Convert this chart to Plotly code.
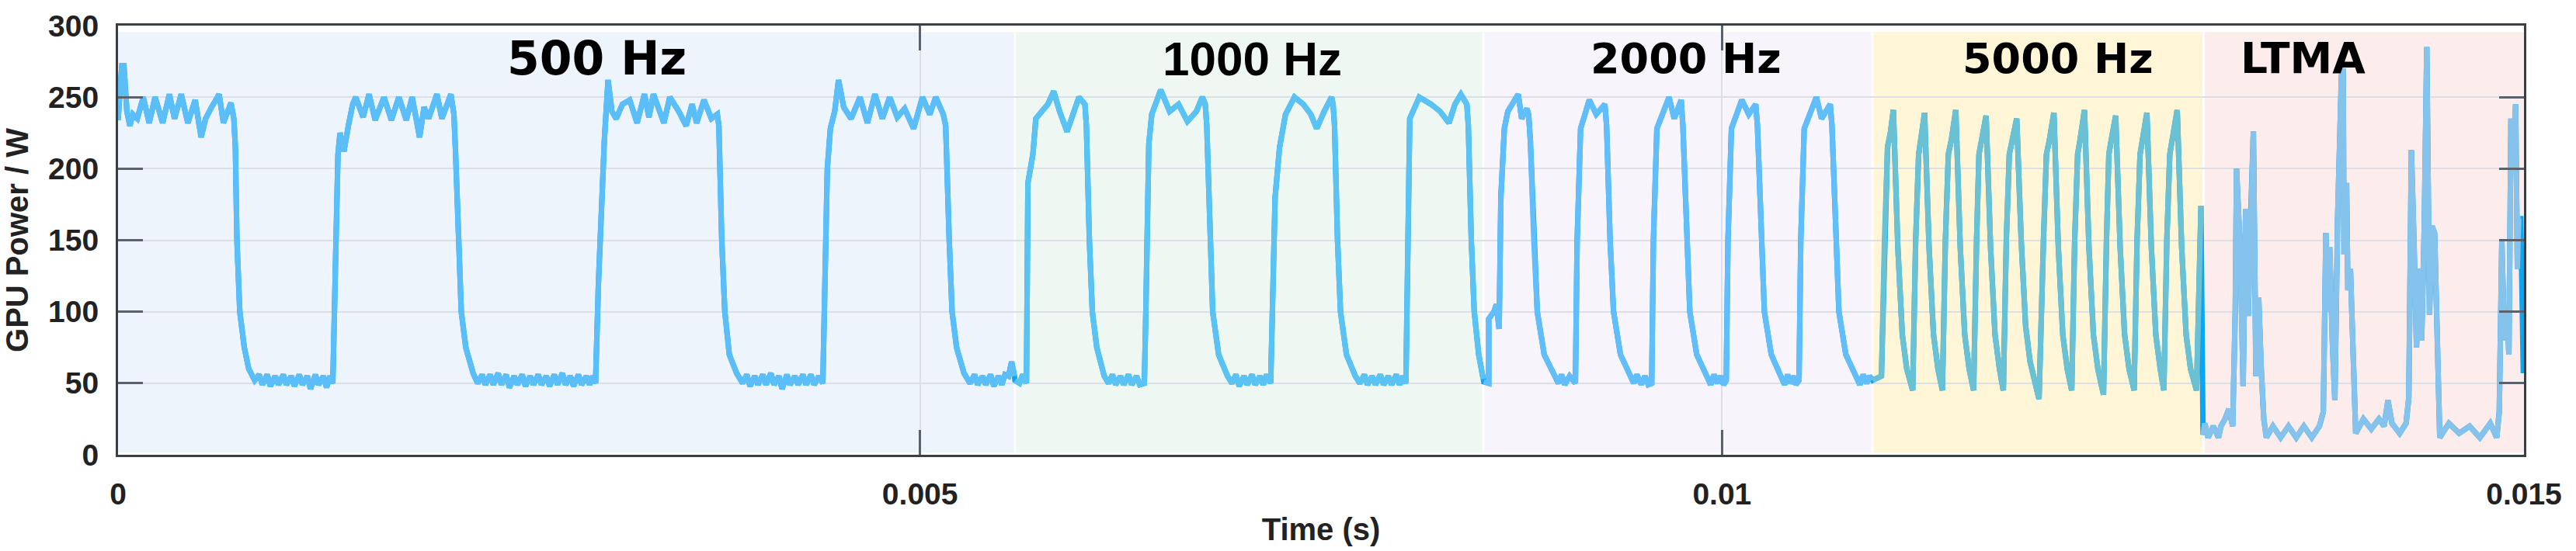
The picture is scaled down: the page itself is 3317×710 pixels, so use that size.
import plotly.graph_objects as go

# ---------------- data (time in ms, power in W) ----------------
seg_500hz = [(0.000, 234), (0.0125, 260), (0.0237, 272), (0.0366, 272), (0.0552, 240), (0.0737, 230), (0.0922, 238),
             (0.120, 235), (0.157, 250), (0.194, 232), (0.231, 250), (0.278, 232), (0.320, 252), (0.352, 235),
             (0.394, 252), (0.435, 232), (0.481, 248), (0.518, 222), (0.546, 235), (0.583, 243), (0.630, 252),
             (0.657, 232), (0.704, 246), (0.722, 235), (0.7315, 215), (0.741, 150), (0.759, 100), (0.787, 75),
             (0.815, 60), (0.852, 52), (0.88, 56), (0.90, 49), (0.93, 56), (0.95, 48), (0.98, 55), (1.00, 49),
             (1.03, 56), (1.05, 49), (1.08, 55), (1.10, 48), (1.13, 56), (1.15, 49), (1.18, 55), (1.20, 46),
             (1.23, 56), (1.25, 49), (1.28, 55), (1.30, 47), (1.32, 55), (1.339, 50),
             (1.352, 120), (1.371, 210), (1.384, 225), (1.408, 212), (1.436, 230), (1.463, 245),
             (1.482, 250), (1.528, 236), (1.565, 252), (1.603, 234), (1.658, 250), (1.704, 234), (1.751, 250),
             (1.797, 234), (1.834, 250), (1.880, 222), (1.908, 243), (1.936, 235), (1.988, 252), (2.019, 235),
             (2.075, 252), (2.094, 238), (2.103, 215), (2.121, 150), (2.140, 100), (2.168, 75), (2.214, 57),
             (2.242, 50), (2.27, 56), (2.29, 49), (2.32, 56), (2.34, 49), (2.37, 57), (2.39, 49), (2.42, 56),
             (2.44, 47), (2.47, 55), (2.49, 49), (2.52, 56), (2.54, 48), (2.57, 55), (2.59, 49), (2.62, 56),
             (2.64, 49), (2.67, 55), (2.69, 48), (2.72, 56), (2.74, 49), (2.77, 57), (2.79, 49), (2.82, 55),
             (2.84, 48), (2.87, 56), (2.89, 49), (2.92, 55), (2.94, 49), (2.96, 55), (2.977, 50),
             (2.995, 120), (3.032, 220), (3.055, 262), (3.079, 240), (3.106, 235),
             (3.144, 245), (3.190, 248), (3.236, 232), (3.282, 252), (3.310, 236), (3.338, 252), (3.403, 232),
             (3.440, 250), (3.496, 240), (3.542, 230), (3.579, 245), (3.607, 232), (3.653, 248), (3.699, 235),
             (3.736, 238), (3.746, 230), (3.764, 150), (3.783, 100), (3.811, 70), (3.857, 57), (3.894, 50),
             (3.92, 56), (3.94, 48), (3.97, 55), (3.99, 49), (4.02, 56), (4.04, 49), (4.07, 57), (4.09, 49),
             (4.12, 55), (4.14, 46), (4.17, 56), (4.19, 49), (4.22, 55), (4.24, 49), (4.27, 56), (4.29, 49),
             (4.32, 56), (4.34, 49), (4.37, 55), (4.394, 50),
             (4.422, 200), (4.441, 228),
             (4.468, 240), (4.492, 262), (4.524, 243), (4.570, 235), (4.626, 250), (4.672, 232), (4.719, 252),
             (4.765, 235), (4.811, 250), (4.858, 236), (4.904, 242), (4.960, 228), (5.015, 250), (5.061, 238),
             (5.098, 250), (5.145, 238), (5.160, 230), (5.182, 150), (5.200, 100), (5.228, 75), (5.274, 57),
             (5.312, 50), (5.34, 56), (5.36, 49), (5.39, 55), (5.41, 49), (5.44, 56), (5.46, 48), (5.49, 55),
             (5.51, 49), (5.53, 56), (5.552, 55), (5.571, 65), (5.589, 55)]

seg_1000hz = [(5.592, 52), (5.620, 50), (5.640, 56), (5.6636, 50), (5.6728, 190), (5.7037, 210), (5.7222, 235),
              (5.7593, 240), (5.7964, 245), (5.8334, 254), (5.8705, 240), (5.9168, 226), (5.9539, 238),
              (5.9909, 250), (6.0280, 245), (6.0372, 230), (6.0558, 150), (6.0743, 100), (6.1021, 75), (6.1484, 55),
              (6.1762, 50), (6.20, 56), (6.22, 49), (6.25, 55), (6.27, 49), (6.30, 56), (6.32, 49), (6.35, 55),
              (6.37, 49), (6.3986, 50), (6.4079, 100), (6.4264, 217), (6.4449, 238), (6.5005, 255), (6.5561, 240),
              (6.6117, 245), (6.6673, 233), (6.7229, 240), (6.7600, 250), (6.7785, 245), (6.7877, 230), (6.8063, 150),
              (6.8248, 100), (6.8618, 70), (6.9174, 55), (6.9452, 50), (6.97, 56), (6.99, 48), (7.02, 55),
              (7.04, 49), (7.07, 56), (7.09, 49), (7.12, 55), (7.14, 49), (7.16, 56), (7.1861, 50),
              (7.1954, 100), (7.2139, 180), (7.2417, 215), (7.2788, 238), (7.3344, 250), (7.3900, 245), (7.4363, 238),
              (7.4733, 228), (7.5197, 240), (7.5660, 250), (7.5752, 245), (7.5845, 230), (7.6030, 150), (7.6216, 100),
              (7.6586, 70), (7.7142, 55), (7.7420, 50), (7.77, 56), (7.79, 49), (7.82, 55), (7.84, 49), (7.87, 56),
              (7.89, 49), (7.92, 55), (7.94, 49), (7.97, 56), (7.99, 49), (8.01, 55), (8.0292, 50), (8.0385, 150),
              (8.0533, 235), (8.1126, 250), (8.1867, 245), (8.2423, 240), (8.2979, 232), (8.3349, 245), (8.3720, 252),
              (8.4091, 245), (8.4184, 230), (8.4369, 150), (8.4554, 100), (8.4832, 70), (8.5110, 53)]

seg_2000hz = [(8.515, 51), (8.5457, 50), (8.5460, 95), (8.5782, 100), (8.5933, 105), (8.6106, 88), (8.6214, 180),
              (8.6430, 228), (8.6646, 240), (8.7295, 252), (8.7511, 235), (8.7835, 242), (8.7943, 238), (8.8051, 220),
              (8.8267, 150), (8.8483, 100), (8.8916, 70), (8.9564, 55), (8.98, 50), (9.00, 56), (9.02, 49),
              (9.05, 55), (9.0861, 50), (9.0969, 150),
              (9.1185, 228), (9.1726, 248), (9.2158, 238), (9.2698, 245), (9.2806, 230), (9.3023, 150), (9.3239, 100),
              (9.3671, 70), (9.4319, 55), (9.45, 50), (9.47, 56), (9.4968, 49), (9.52, 55), (9.54, 49),
              (9.5616, 50), (9.5724, 150), (9.5941, 228), (9.6697, 250),
              (9.7021, 235), (9.7453, 248), (9.7562, 230), (9.7778, 150), (9.7994, 100), (9.8426, 70), (9.9075, 55),
              (9.93, 49), (9.95, 56), (9.9723, 50), (9.99, 55), (10.01, 49), (10.0263, 52), (10.0372, 150),
              (10.0588, 228), (10.1236, 248), (10.1669, 238),
              (10.2101, 245), (10.2209, 230), (10.2425, 150), (10.2641, 100), (10.3074, 70), (10.3722, 55),
              (10.39, 49), (10.41, 56), (10.4262, 50), (10.45, 55), (10.46, 49), (10.4803, 52), (10.4911, 150),
              (10.5127, 228), (10.5884, 250), (10.6208, 235),
              (10.6748, 245), (10.6856, 230), (10.7072, 150), (10.7289, 100), (10.7721, 70), (10.8370, 55),
              (10.86, 49), (10.88, 56), (10.9018, 50), (10.92, 55), (10.9342, 52)]

seg_5000hz = [(10.939, 52), (10.994, 55), (11.013, 150), (11.032, 215), (11.050, 225), (11.0685, 241),
              (11.0963, 145), (11.1241, 84), (11.1519, 60), (11.1797, 48), (11.1889, 45), (11.2075, 150), (11.2260, 210), (11.2390, 220), (11.2631, 239),
              (11.2909, 145), (11.3187, 84), (11.3464, 60), (11.3687, 48), (11.3742, 45), (11.3928, 150), (11.4113, 210), (11.4298, 220), (11.4576, 241),
              (11.4854, 145), (11.5132, 84), (11.5410, 60), (11.5632, 48), (11.5688, 45), (11.5873, 150), (11.6021, 210), (11.6188, 220), (11.6466, 237),
              (11.6744, 145), (11.7022, 84), (11.7300, 60), (11.7485, 48), (11.7541, 45), (11.7726, 150), (11.7912, 210), (11.8097, 220), (11.8375, 235),
              (11.8653, 150), (11.8931, 90), (11.9209, 65), (11.9487, 52), (11.9765, 39), (12.0043, 150), (12.0228, 210), (12.0413, 220), (12.0691, 239),
              (12.0969, 145), (12.1247, 84), (12.1525, 60), (12.1747, 48), (12.1803, 45), (12.1988, 150), (12.2173, 210), (12.2322, 220), (12.2600, 241),
              (12.2878, 145), (12.3156, 84), (12.3434, 60), (12.3693, 48), (12.3786, 42), (12.3971, 150), (12.4119, 210), (12.4267, 220), (12.4545, 237),
              (12.4823, 145), (12.5101, 84), (12.5379, 60), (12.5620, 48), (12.5694, 45), (12.5879, 150), (12.6065, 210), (12.6213, 220), (12.6491, 239),
              (12.6769, 145), (12.7047, 84), (12.7325, 60), (12.7492, 48), (12.7547, 45), (12.7733, 150), (12.7918, 210), (12.8066, 220), (12.8381, 241),
              (12.8659, 145), (12.8937, 84), (12.9215, 60), (12.9493, 48), (12.9586, 45), (12.9863, 174)]

seg_ltma = [(12.999, 14), (13.010, 22), (13.031, 12), (13.063, 20), (13.095, 12), (13.111, 20), (13.136, 25),
            (13.160, 32), (13.184, 20), (13.200, 100), (13.208, 200), (13.232, 140), (13.249, 48), (13.265, 172),
            (13.281, 97), (13.297, 170), (13.313, 226), (13.329, 55), (13.346, 110), (13.362, 60), (13.378, 25),
            (13.394, 12), (13.435, 20), (13.483, 12), (13.532, 20), (13.580, 12), (13.628, 20), (13.677, 12),
            (13.725, 20), (13.749, 30), (13.765, 155), (13.781, 100), (13.789, 145), (13.805, 80), (13.821, 38),
            (13.838, 165), (13.862, 265), (13.873, 270), (13.878, 140), (13.894, 190), (13.902, 115), (13.918, 130),
            (13.934, 60), (13.951, 15), (13.999, 25), (14.048, 18), (14.096, 25), (14.128, 20), (14.152, 38),
            (14.177, 22), (14.225, 15), (14.265, 22), (14.282, 40), (14.298, 213), (14.314, 150), (14.330, 75),
            (14.346, 130), (14.362, 80), (14.378, 157), (14.394, 285), (14.411, 98), (14.427, 160), (14.443, 155),
            (14.459, 60), (14.475, 12), (14.532, 22), (14.596, 15), (14.661, 20), (14.725, 12), (14.790, 22),
            (14.830, 12), (14.846, 30), (14.862, 150), (14.878, 80), (14.895, 100), (14.906, 70), (14.919, 235),
            (14.935, 200), (14.948, 245), (14.959, 130), (14.967, 165), (14.980, 165)]

seg_tail = [(14.996, 57)]

region_labels = ["500 Hz", "1000 Hz", "2000 Hz", "5000 Hz", "LTMA"]
region_bounds_ms = [(0.0, 5.585), (5.598, 8.505), (8.518, 10.930), (10.945, 12.995), (13.010, 15.0)]
label_pos_ms = [2.983, 7.072, 9.776, 12.096, 13.621]

x_tickvals = [0, 0.005, 0.01, 0.015]
x_ticktext = ["0", "0.005", "0.01", "0.015"]
y_tickvals = [0, 50, 100, 150, 200, 250, 300]

# ---------------- styling ----------------
region_fill = ["#EDF4FC", "#EEF7F2", "#F7F5FB", "#FEF6D6", "#FCEDEC"]
line_colors = ["#5BBEF8", "#5BC2F4", "#62BEFA", "#6AC1D3", "#85C2EC"]
label_fonts = [("DejaVu Sans", 60), ("Liberation Sans", 62), ("DejaVu Sans", 54), ("DejaVu Sans", 54), ("DejaVu Sans", 55)]
junction_color = "#0AA5F5"
LW = 7

segments = [seg_500hz, seg_1000hz, seg_2000hz, seg_5000hz, seg_ltma]

fig = go.Figure()

# full trace underneath (visible at the junctions)
all_pts = [p for s in segments for p in s] + seg_tail
fig.add_trace(go.Scatter(x=[p[0] / 1000 for p in all_pts], y=[p[1] for p in all_pts], mode="lines",
                         line=dict(color=junction_color, width=LW), showlegend=False, hoverinfo="skip"))

for seg, col in zip(segments, line_colors):
    fig.add_trace(go.Scatter(x=[p[0] / 1000 for p in seg], y=[p[1] for p in seg], mode="lines",
                             line=dict(color=col, width=LW), showlegend=False))

shapes = []
for (x0, x1), fc in zip(region_bounds_ms, region_fill):
    shapes.append(dict(type="rect", xref="x", yref="paper", x0=x0 / 1000, x1=x1 / 1000, y0=0.005, y1=0.985,
                       fillcolor=fc, line=dict(width=0), layer="below"))

annotations = []
for lab, xm, (fam, sz) in zip(region_labels, label_pos_ms, label_fonts):
    annotations.append(dict(x=xm / 1000, y=0.924, xref="x", yref="paper", text=lab, showarrow=False,
                            font=dict(family=fam, size=sz, color="black", weight="bold"),
                            xanchor="center", yanchor="middle"))

fig.update_layout(
    width=3317, height=710,
    margin=dict(l=152, r=67, t=26, b=122),
    paper_bgcolor="white", plot_bgcolor="white",
    shapes=shapes, annotations=annotations,
    showlegend=False,
)

axis_font = dict(family="Liberation Sans", size=39, color="#222222", weight="bold")

fig.update_xaxes(
    range=[0, 0.015], tickvals=x_tickvals, ticktext=x_ticktext,
    showline=True, mirror="ticks", linecolor="#3a3f45", linewidth=3,
    ticks="inside", ticklen=32, tickwidth=3, tickcolor="#5a616b",
    showgrid=True, gridcolor="#DCDFE5", gridwidth=2, zeroline=False,
    tickfont=axis_font, ticklabelstandoff=14,
    title=dict(text="Time (s)", font=dict(family="Liberation Sans", size=40, color="#222222", weight="bold"),
               standoff=12),
)
fig.update_yaxes(
    range=[0, 300], tickvals=y_tickvals,
    showline=True, mirror="ticks", linecolor="#3a3f45", linewidth=3,
    ticks="inside", ticklen=32, tickwidth=3, tickcolor="#5a616b",
    showgrid=True, gridcolor="#DCDFE5", gridwidth=2, zeroline=False,
    tickfont=axis_font, ticklabelstandoff=14,
    title=dict(text="GPU Power / W", font=dict(family="Liberation Sans", size=40, color="#222222", weight="bold"),
               standoff=16),
)

fig.write_html("out.html")
